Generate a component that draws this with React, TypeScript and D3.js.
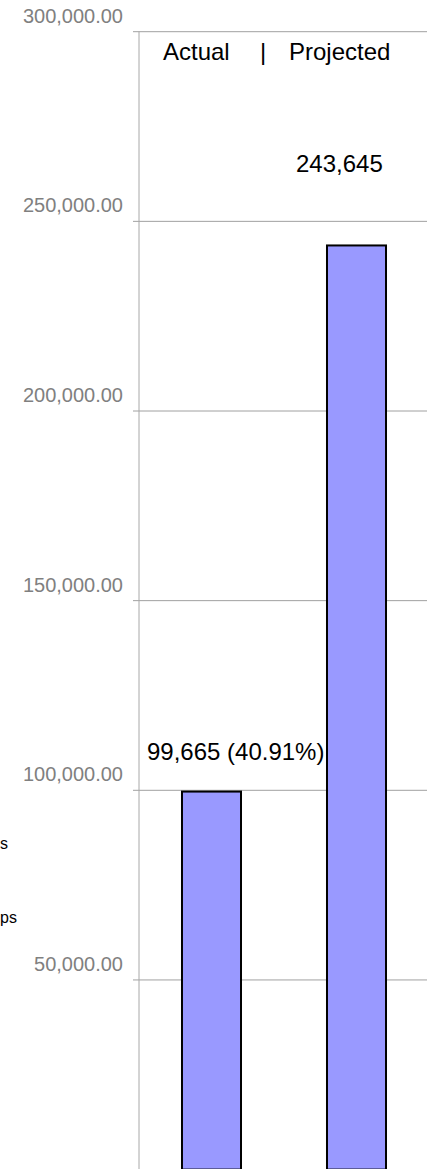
import React from "react";
import * as d3 from "d3";

const categories = ["Actual", "Projected"];
const values = [99665, 243645];
const valueLabels = ["99,665 (40.91%)", "243,645"];
const tickValues = [50000, 100000, 150000, 200000, 250000, 300000];
const headerParts = ["Actual", "|", "Projected"];
const legendFragments = ["s", "ps"];

const W = 427;
const H = 1169;
const FONT = "'Liberation Sans', Arial, sans-serif";

export default function App() {
  const y = d3.scaleLinear().domain([0, 300000]).range([1169.6, 31.7]);
  const x = d3
    .scaleBand<string>()
    .domain(categories)
    .range([139, 429])
    .paddingInner(0.593)
    .paddingOuter(0.2965);
  const fmt = d3.format(",.2f");
  const axisX = 139;

  const labelOffsets = [
    { dx: -35, dy: -32, anchor: "start" },
    { dx: -31, dy: -73, anchor: "start" },
  ];

  return (
    <svg
      width={W}
      height={H}
      style={{ position: "absolute", left: 0, top: 0, background: "#fff" }}
      fontFamily={FONT}
    >
      <rect x={0} y={0} width={W} height={H} fill="#fff" />
      {tickValues.map((t) => (
        <g key={t}>
          <line
            x1={133}
            x2={W}
            y1={y(t)}
            y2={y(t)}
            stroke="#a0a0a0"
            strokeWidth={1}
          />
          <text
            x={123}
            y={y(t) - 9}
            textAnchor="end"
            fontSize={20}
            fill="#808080"
          >
            {fmt(t)}
          </text>
        </g>
      ))}
      <line
        x1={axisX}
        x2={axisX}
        y1={y(300000)}
        y2={H}
        stroke="#a8a8a8"
        strokeWidth={1}
      />
      {categories.map((c, i) => (
        <rect
          key={c}
          x={x(c)!}
          y={y(values[i])}
          width={x.bandwidth()}
          height={y(0) - y(values[i])}
          fill="#9999ff"
          stroke="#000"
          strokeWidth={2}
        />
      ))}
      {categories.map((c, i) => (
        <text
          key={c + "-lbl"}
          x={x(c)! + labelOffsets[i].dx}
          y={y(values[i]) + labelOffsets[i].dy}
          textAnchor={labelOffsets[i].anchor as any}
          fontSize={24}
          fill="#000"
        >
          {valueLabels[i]}
        </text>
      ))}
      <text x={163} y={60} fontSize={24} fill="#000">
        {headerParts[0]}
      </text>
      <text x={263} y={60} fontSize={24} fill="#000" textAnchor="middle">
        {headerParts[1]}
      </text>
      <text x={289} y={60} fontSize={24} fill="#000">
        {headerParts[2]}
      </text>
      <text x={0} y={849} fontSize={16} fill="#000">
        {legendFragments[0]}
      </text>
      <text x={0} y={923} fontSize={16} fill="#000">
        {legendFragments[1]}
      </text>
    </svg>
  );
}
